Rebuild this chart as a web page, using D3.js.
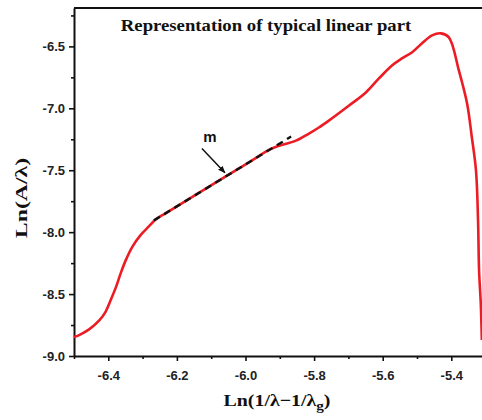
<!DOCTYPE html>
<html>
<head>
<meta charset="utf-8">
<script src="https://cdn.jsdelivr.net/npm/d3@7"></script>
<style>
  html, body { margin: 0; padding: 0; background: #fff; }
  svg { display: block; }
</style>
</head>
<body>
<svg id="chart" width="482" height="420"></svg>
<script>
// Spectrum in log form: Ln(A/λ) against Ln(1/λ − 1/λg)
const xVals = [-6.500, -6.485, -6.456, -6.427, -6.408, -6.393, -6.378, -6.364, -6.349, -6.330,
  -6.306, -6.281, -6.262, -6.232, -6.194, -6.136, -6.048, -5.990, -5.926, -5.902,
  -5.853, -5.815, -5.786, -5.757, -5.698, -5.649, -5.611, -5.573, -5.544, -5.515,
  -5.486, -5.456, -5.430, -5.407, -5.378, -5.354, -5.340, -5.328, -5.322, -5.319,
  -5.314, -5.311];
const yVals = [-8.847, -8.831, -8.785, -8.715, -8.643, -8.548, -8.446, -8.333, -8.226, -8.119,
  -8.024, -7.952, -7.898, -7.846, -7.781, -7.683, -7.534, -7.436, -7.328, -7.303,
  -7.261, -7.204, -7.155, -7.099, -6.977, -6.872, -6.759, -6.654, -6.597, -6.549,
  -6.476, -6.411, -6.395, -6.427, -6.694, -6.961, -7.236, -7.503, -7.908, -8.312,
  -8.579, -8.870];

// Linear fit over the straight part (slope m)
const fitX = [-6.267, -5.867];
const fitY = [-7.905, -7.228];

// Arrow pointing at the fitted line, with its label
const arrowX = [-6.127, -6.060];
const arrowY = [-7.324, -7.520];
const arrowLabel = "m";

const xTicks = [-6.4, -6.2, -6.0, -5.8, -5.6, -5.4];
const xMinor = [-6.5, -6.3, -6.1, -5.9, -5.7, -5.5, -5.3];
const yTicks = [-9.0, -8.5, -8.0, -7.5, -7.0, -6.5];
const yMinor = [-8.75, -8.25, -7.75, -7.25, -6.75, -6.25];

const titleText = "Representation of typical linear part";

const svg = d3.select("#chart");
const padLeft = 74, padBottom = 356, padTop = 8;
const x = d3.scaleLinear().domain([-6.5, -5.3]).range([padLeft, padLeft + 1.2 * 343]);
const y = d3.scaleLinear().domain([-9.0, -6.19]).range([padBottom, padTop]);

const defs = svg.append("defs");
defs.append("marker")
  .attr("id", "arrowhead")
  .attr("viewBox", "0 0 10 10")
  .attr("refX", 9).attr("refY", 5)
  .attr("markerWidth", 5).attr("markerHeight", 5)
  .attr("markerUnits", "strokeWidth")
  .attr("orient", "auto")
  .append("path").attr("d", "M0,1 L10,5 L0,9 Z").attr("fill", "#111");

// Frame (top edge) — right edge lies beyond the view
svg.append("line")
  .attr("x1", padLeft).attr("x2", x(-5.3))
  .attr("y1", padTop).attr("y2", padTop)
  .attr("stroke", "#111").attr("stroke-width", 2);

// Axes (plain hyphen for the minus sign)
const fmt = d => d3.format(".1f")(d).replace("\u2212", "-");
const xAxis = d3.axisBottom(x).tickValues(xTicks).tickFormat(fmt).tickSize(5).tickSizeOuter(0);
const yAxis = d3.axisLeft(y).tickValues(yTicks).tickFormat(fmt).tickSize(5).tickSizeOuter(0);

const gx = svg.append("g").attr("transform", `translate(0,${padBottom})`).call(xAxis);
const gy = svg.append("g").attr("transform", `translate(${padLeft},0)`).call(yAxis);

svg.append("g").attr("transform", `translate(0,${padBottom})`)
  .call(d3.axisBottom(x).tickValues(xMinor).tickFormat("").tickSize(3).tickSizeOuter(0))
  .call(g => g.select(".domain").remove());
svg.append("g").attr("transform", `translate(${padLeft},0)`)
  .call(d3.axisLeft(y).tickValues(yMinor).tickFormat("").tickSize(3).tickSizeOuter(0))
  .call(g => g.select(".domain").remove());

svg.selectAll(".domain").attr("stroke", "#111").attr("stroke-width", 2);
svg.selectAll(".tick line").attr("stroke", "#111").attr("stroke-width", 1.6);
svg.selectAll(".tick text")
  .attr("font-family", "Arial, 'Liberation Sans', sans-serif")
  .attr("font-weight", "bold")
  .attr("font-size", 13)
  .attr("fill", "#222");
gx.selectAll(".tick text").attr("dy", null).attr("y", 24);
gy.selectAll(".tick text").attr("x", -9).attr("dy", "0.35em");

// Curve
const line = d3.line()
  .x(d => x(d[0])).y(d => y(d[1]))
  .curve(d3.curveCatmullRom.alpha(0.5));

svg.append("path")
  .datum(xVals.map((v, i) => [v, yVals[i]]))
  .attr("d", line)
  .attr("fill", "none")
  .attr("stroke", "#ec1c24")
  .attr("stroke-width", 2.6)
  .attr("stroke-linejoin", "round");

// Fitted line
svg.append("path")
  .datum(fitX.map((v, i) => [v, fitY[i]]))
  .attr("d", d3.line().x(d => x(d[0])).y(d => y(d[1])))
  .attr("fill", "none")
  .attr("stroke", "#111")
  .attr("stroke-width", 2.4)
  .attr("stroke-dasharray", "7,5");

// Arrow and label
svg.append("line")
  .attr("x1", x(arrowX[0])).attr("y1", y(arrowY[0]))
  .attr("x2", x(arrowX[1])).attr("y2", y(arrowY[1]))
  .attr("stroke", "#111").attr("stroke-width", 1.5)
  .attr("marker-end", "url(#arrowhead)");

svg.append("text")
  .attr("x", x(arrowX[0]) + 8).attr("y", y(arrowY[0]) - 6)
  .attr("text-anchor", "middle")
  .attr("font-family", "Arial, 'Liberation Sans', sans-serif")
  .attr("font-weight", "bold").attr("font-size", 15)
  .attr("fill", "#111")
  .text(arrowLabel);

// Title
svg.append("text")
  .attr("transform", "translate(266,31) scale(1.17,1)")
  .attr("text-anchor", "middle")
  .attr("font-family", "'Liberation Serif', 'Times New Roman', serif")
  .attr("font-weight", "bold").attr("font-size", 16)
  .attr("fill", "#111")
  .text(titleText);

// Axis titles
const xt = svg.append("text")
  .attr("transform", "translate(277,406) scale(1.17,1)")
  .attr("text-anchor", "middle")
  .attr("font-family", "'Liberation Serif', 'Times New Roman', serif")
  .attr("font-weight", "bold").attr("font-size", 17)
  .attr("fill", "#111");
xt.append("tspan").text("Ln(1/λ−1/λ");
xt.append("tspan").attr("dy", 4).attr("font-size", 13).text("g");
xt.append("tspan").attr("dy", -4).text(")");

svg.append("text")
  .attr("transform", "translate(27,198) rotate(-90) scale(1.4,1)")
  .attr("text-anchor", "middle")
  .attr("font-family", "'Liberation Serif', 'Times New Roman', serif")
  .attr("font-weight", "bold").attr("font-size", 17)
  .attr("fill", "#111")
  .text("Ln(A/λ)");
</script>
</body>
</html>
